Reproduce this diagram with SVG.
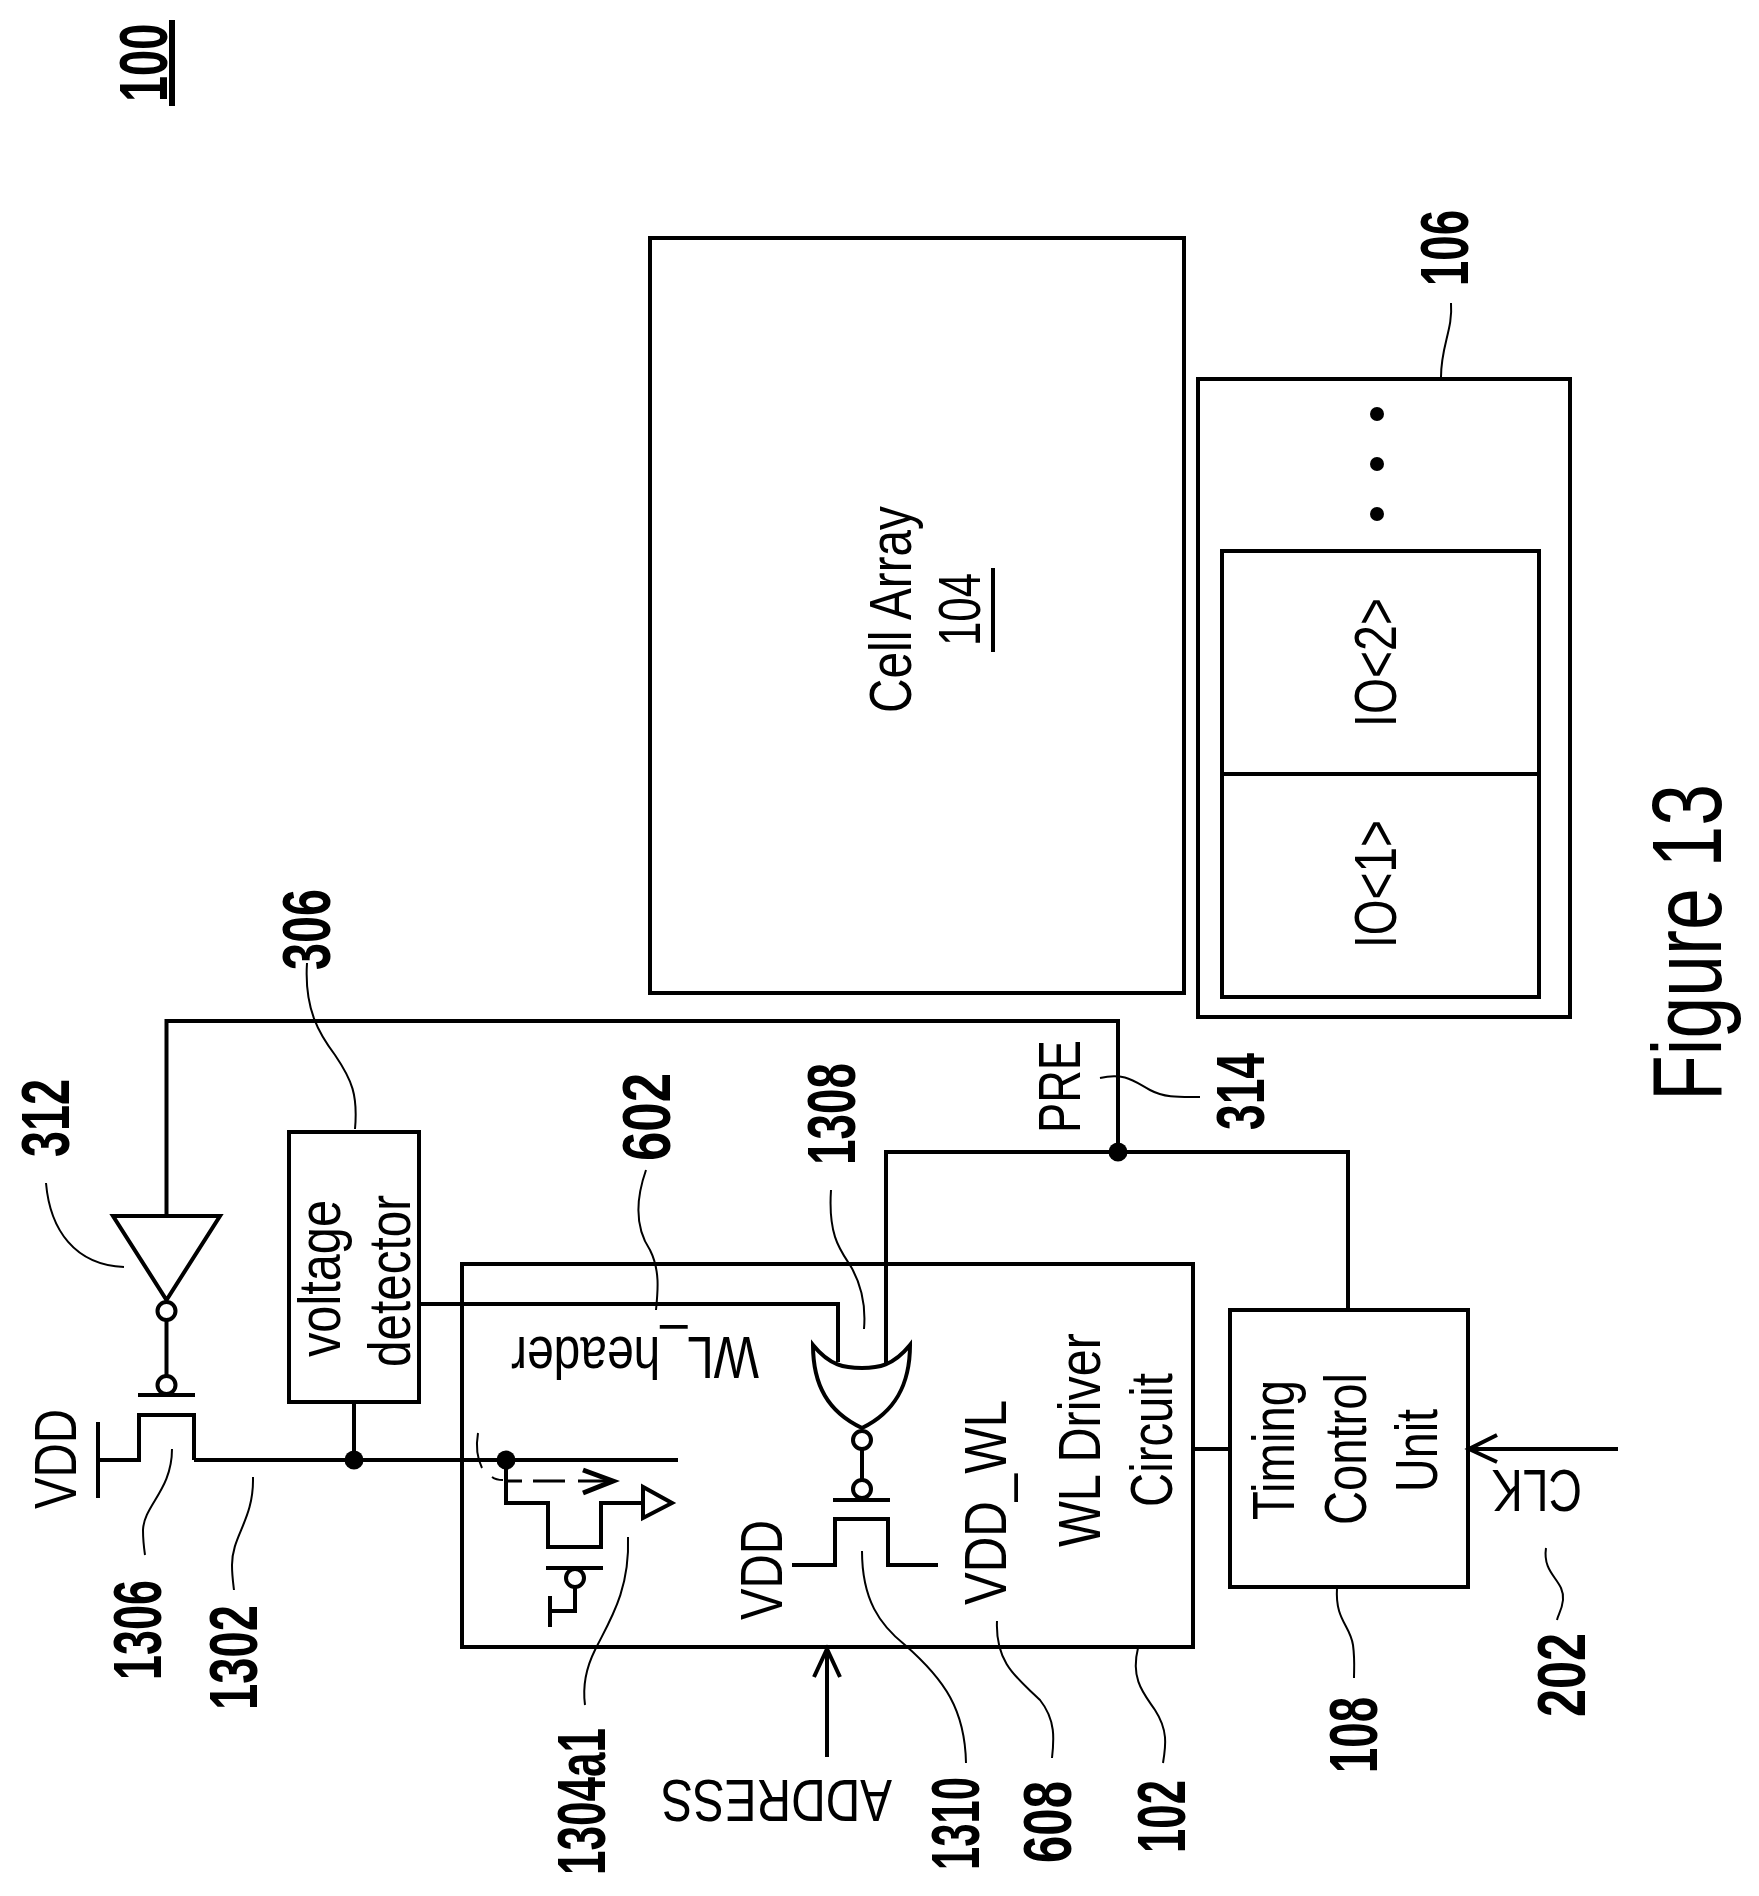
<svg xmlns="http://www.w3.org/2000/svg" width="1759" height="1896" viewBox="0 0 1759 1896">
<style>
text{font-family:"Liberation Sans",Arial,sans-serif;fill:#000}
.n{font-size:60px}
.b{font-size:69px;font-weight:bold}
.f{font-size:98px}
.box{fill:#fff;stroke:#000;stroke-width:4}
.w{fill:none;stroke:#000;stroke-width:4}
.g{fill:#fff;stroke:#000;stroke-width:4}
.l{fill:none;stroke:#000;stroke-width:2}
.t{fill:none;stroke:#000;stroke-width:5}
.d{fill:#000}
</style>
<rect width="1759" height="1896" fill="#fff"/>
<g id="label-100"><text class="b" transform="translate(167,102) rotate(-90) scale(.68,1)">100</text><line x1="172" y1="20" x2="172" y2="106" stroke="#000" stroke-width="6"/></g>
<g id="cell-array"><rect class="box" x="650" y="238" width="534" height="755"/>
<text class="n" transform="translate(911,713) rotate(-90)" textLength="207" lengthAdjust="spacingAndGlyphs">Cell Array</text>
<text class="n" transform="translate(980,646) rotate(-90)" textLength="73" lengthAdjust="spacingAndGlyphs">104</text>
<line x1="993" y1="568" x2="993" y2="652" stroke="#000" stroke-width="4"/></g>
<g id="io-block"><rect class="box" x="1198" y="379" width="372" height="638"/>
<rect class="box" x="1222" y="551" width="317" height="446"/>
<line class="w" x1="1222" y1="774" x2="1539" y2="774"/>
<text class="n" transform="translate(1396,727) rotate(-90)" textLength="129" lengthAdjust="spacingAndGlyphs">IO&lt;2&gt;</text>
<text class="n" transform="translate(1396,948) rotate(-90)" textLength="128" lengthAdjust="spacingAndGlyphs">IO&lt;1&gt;</text>
<circle class="d" cx="1377" cy="414" r="7"/><circle class="d" cx="1377" cy="464" r="7"/><circle class="d" cx="1377" cy="514" r="7"/></g>
<g id="voltage-detector"><rect class="box" x="289" y="1132" width="130" height="270"/>
<text class="n" transform="translate(340,1357) rotate(-90)" textLength="157" lengthAdjust="spacingAndGlyphs">voltage</text>
<text class="n" transform="translate(410,1367) rotate(-90)" textLength="172" lengthAdjust="spacingAndGlyphs">detector</text></g>
<g id="wl-driver"><rect class="box" x="462" y="1264" width="731" height="383"/>
<text class="n" transform="translate(759,1337) rotate(180)" textLength="248" lengthAdjust="spacingAndGlyphs">WL_header</text>
<text class="n" transform="translate(782,1620) rotate(-90)" textLength="100" lengthAdjust="spacingAndGlyphs">VDD</text>
<text class="n" transform="translate(1006,1605) rotate(-90)" textLength="205" lengthAdjust="spacingAndGlyphs">VDD_WL</text>
<text class="n" transform="translate(1100,1547) rotate(-90)" textLength="214" lengthAdjust="spacingAndGlyphs">WL Driver</text>
<text class="n" transform="translate(1172,1507) rotate(-90)" textLength="134" lengthAdjust="spacingAndGlyphs">Circuit</text></g>
<g id="timing-control"><rect class="box" x="1230" y="1310" width="238" height="277"/>
<text class="n" transform="translate(1294,1520) rotate(-90)" textLength="140" lengthAdjust="spacingAndGlyphs">Timing</text>
<text class="n" transform="translate(1366,1525) rotate(-90)" textLength="152" lengthAdjust="spacingAndGlyphs">Control</text>
<text class="n" transform="translate(1437,1492) rotate(-90)" textLength="83" lengthAdjust="spacingAndGlyphs">Unit</text></g>
<g id="pmos-1306"><path class="w" d="M98 1422V1498M98 1460H139V1415H194V1460M138 1395H195"/><circle class="g" cx="166.500" cy="1385" r="9"/>
<text class="n" transform="translate(76,1509) rotate(-90)" textLength="100" lengthAdjust="spacingAndGlyphs">VDD</text></g>
<g id="inverter-312"><path class="g" d="M113 1216H220L166.500 1300Z"/><circle class="g" cx="166.500" cy="1311" r="9"/></g>
<g id="nor-1308"><path class="g" stroke-width="5" d="M813 1345C830 1366 845 1368 862 1368C878 1368 893 1366 910 1345C910 1385 895 1412 862 1428C828 1412 813 1385 813 1345Z"/><circle class="g" cx="862" cy="1440" r="9"/></g>
<g id="pmos-1310"><path class="w" d="M792 1565H835V1519H888V1565H938M833 1500H890"/><circle class="g" cx="862" cy="1489" r="9"/></g>
<g id="pass-1304"><path class="w" d="M506 1461V1503H548V1547H601V1503H643M546 1568H603M575 1588V1611H550M550 1596V1627"/><circle class="g" cx="575" cy="1578" r="9"/><path class="g" d="M643 1487V1518L672 1503Z"/>
<path fill="none" stroke="#000" stroke-width="3" stroke-dasharray="17 11 32 13 35 99" d="M505 1481H613"/><path class="t" d="M583 1470L613 1481L583 1493"/></g>
<g id="connectors">
<path class="w" d="M166.500 1216V1021H1118V1152"/>
<path class="w" d="M886 1363V1152H1348V1310"/>
<path class="w" d="M419 1304H838V1362"/>
<path class="w" d="M194 1460H678"/>
<path class="w" d="M354 1402V1460"/>
<path class="w" d="M166.500 1320V1376"/>
<path class="w" d="M862 1449V1480"/>
<path class="w" d="M1192 1449H1230"/>
<path class="w" d="M1618 1449H1469M1497 1435L1469 1449L1497 1462"/>
<path class="w" d="M827 1757V1649M814 1677L827 1649L840 1677"/>
<circle class="d" cx="1118" cy="1152" r="9.500"/><circle class="d" cx="354" cy="1460" r="9.500"/><circle class="d" cx="506" cy="1460" r="9.500"/>
<path class="l" d="M478 1433C476 1445 477 1458 482 1468M492 1477C496 1480 500 1480 503 1480"/>
<path class="l" d="M307 963C304 1010 320 1035 335 1055C352 1080 358 1095 355 1129"/>
<path class="l" d="M46 1183C50 1230 75 1265 124 1267"/>
<path class="l" d="M172 1449C172 1490 144 1505 143 1530C143 1540 144 1548 145 1555"/>
<path class="l" d="M253 1477C254 1520 232 1535 232 1565C232 1575 233 1582 234 1590"/>
<path class="l" d="M646 1170C632 1210 640 1235 650 1250C660 1270 658 1290 656 1310"/>
<path class="l" d="M831 1190C828 1235 840 1250 850 1265C862 1285 866 1305 864 1329"/>
<path class="l" d="M628 1537C630 1590 610 1620 595 1650C585 1670 583 1690 585 1705"/>
<path class="l" d="M862 1551C862 1600 880 1625 905 1645C945 1680 965 1710 966 1763"/>
<path class="l" d="M997 1621C995 1665 1020 1680 1040 1700C1056 1720 1054 1740 1052 1758"/>
<path class="l" d="M1138 1648C1130 1680 1145 1695 1155 1710C1168 1730 1166 1745 1163 1763"/>
<path class="l" d="M1337 1588C1335 1620 1350 1625 1353 1645C1355 1660 1354 1670 1354 1678"/>
<path class="l" d="M1546 1548C1542 1575 1565 1580 1563 1600C1562 1610 1558 1615 1557 1620"/>
<path class="l" d="M1100 1078C1125 1072 1135 1082 1150 1090C1165 1098 1180 1097 1200 1097"/>
<path class="l" d="M1451 303C1453 330 1441 345 1441 377"/>
</g>
<g id="labels">
<text class="b" transform="translate(1468,286) rotate(-90)" textLength="76" lengthAdjust="spacingAndGlyphs">106</text>
<text class="b" transform="translate(330,970) rotate(-90)" textLength="81" lengthAdjust="spacingAndGlyphs">306</text>
<text class="b" transform="translate(69,1157) rotate(-90)" textLength="78" lengthAdjust="spacingAndGlyphs">312</text>
<text class="b" transform="translate(670,1161) rotate(-90)" textLength="88" lengthAdjust="spacingAndGlyphs">602</text>
<text class="b" transform="translate(855,1165) rotate(-90)" textLength="102" lengthAdjust="spacingAndGlyphs">1308</text>
<text class="b" transform="translate(161,1680) rotate(-90)" textLength="100" lengthAdjust="spacingAndGlyphs">1306</text>
<text class="b" transform="translate(257,1710) rotate(-90)" textLength="105" lengthAdjust="spacingAndGlyphs">1302</text>
<text class="b" transform="translate(605,1875) rotate(-90)" textLength="147" lengthAdjust="spacingAndGlyphs">1304a1</text>
<text class="b" transform="translate(979,1870) rotate(-90)" textLength="93" lengthAdjust="spacingAndGlyphs">1310</text>
<text class="b" transform="translate(1071,1863) rotate(-90)" textLength="82" lengthAdjust="spacingAndGlyphs">608</text>
<text class="b" transform="translate(1185,1853) rotate(-90)" textLength="73" lengthAdjust="spacingAndGlyphs">102</text>
<text class="b" transform="translate(1377,1773) rotate(-90)" textLength="76" lengthAdjust="spacingAndGlyphs">108</text>
<text class="b" transform="translate(1585,1717) rotate(-90)" textLength="84" lengthAdjust="spacingAndGlyphs">202</text>
<text class="b" transform="translate(1264,1130) rotate(-90)" textLength="77" lengthAdjust="spacingAndGlyphs">314</text>
<text class="n" transform="translate(1080,1133) rotate(-90)" textLength="93" lengthAdjust="spacingAndGlyphs">PRE</text>
<text class="n" transform="translate(1582,1470) rotate(180)" textLength="90" lengthAdjust="spacingAndGlyphs">CLK</text>
<text class="n" transform="translate(892,1780) rotate(180)" textLength="231" lengthAdjust="spacingAndGlyphs">ADDRESS</text>
<text class="f" transform="translate(1721,1101) rotate(-90)" textLength="317" lengthAdjust="spacingAndGlyphs">Figure 13</text>
</g>
</svg>
